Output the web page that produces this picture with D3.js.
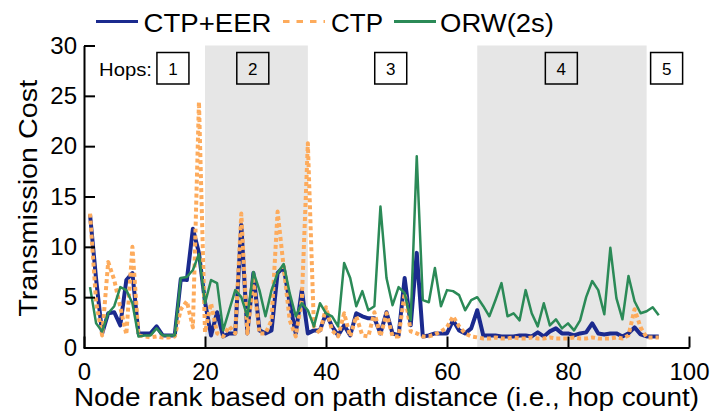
<!DOCTYPE html>
<html>
<head>
<meta charset="utf-8">
<script src="https://cdn.jsdelivr.net/npm/d3@7"></script>
<style>
  html, body { margin: 0; padding: 0; background: #fff; }
  svg { display: block; font-family: "Liberation Sans", Arial, Helvetica, sans-serif; }
</style>
</head>
<body>
<svg id="chart" width="716" height="415"></svg>
<script>
// ---- data ----
const seriesNames = ["CTP+EER", "CTP", "ORW(2s)"];
const ctpEer = [13.2, 6.8, 1.4, 3.4, 3.5, 2.2, 6.7, 7.4, 1.4, 1.4,
  1.4, 2.1, 1.2, 1.2, 1.2, 6.8, 6.7, 11.8, 9.4, 4.5,
  1.2, 3.5, 1.1, 1.4, 1.4, 12.2, 1.4, 7.4, 1.7, 1.4,
  1.7, 7.4, 8.0, 4.4, 1.4, 5.7, 1.4, 1.7, 1.7, 3.4,
  2.1, 1.2, 2.2, 1.2, 3.4, 3.1, 2.9, 2.9, 1.4, 3.5,
  1.4, 1.2, 6.9, 2.2, 9.4, 1.1, 1.2, 1.4, 1.4, 1.4,
  2.7, 1.7, 1.4, 1.9, 3.7, 1.2, 1.2, 1.2, 1.1, 1.1,
  1.1, 1.2, 1.2, 1.1, 1.5, 1.1, 1.6, 1.9, 1.4, 1.4,
  1.2, 1.4, 1.5, 2.4, 1.4, 1.3, 1.4, 1.4, 1.1, 1.4,
  2.0, 1.3, 1.1, 1.1, 1.1];
const ctp = [13.3, 4.5, 1.2, 8.5, 6.7, 4.0, 1.3, 10.0, 1.2, 1.1,
  1.0, 1.1, 1.0, 1.0, 1.1, 3.8, 4.6, 2.0, 24.4, 1.5,
  4.4, 1.4, 1.1, 2.1, 1.4, 13.3, 1.4, 6.7, 1.4, 1.4,
  2.7, 13.5, 8.0, 2.7, 1.1, 4.7, 20.3, 2.1, 1.4, 4.0,
  1.7, 1.1, 3.4, 1.1, 3.1, 1.2, 1.1, 3.5, 1.1, 3.4,
  1.1, 1.1, 5.4, 1.6, 1.4, 1.1, 1.1, 1.3, 1.6, 2.0,
  3.1, 2.1, 1.4, 1.1, 1.0, 0.9, 0.9, 1.0, 0.9, 0.9,
  1.0, 0.9, 0.9, 1.0, 0.9, 0.9, 1.0, 0.9, 0.9, 0.9,
  1.0, 0.9, 0.9, 1.0, 0.9, 0.9, 0.9, 1.0, 0.9, 1.2,
  3.8, 2.0, 1.0, 1.0, 1.0];
const orw = [6.0, 2.4, 1.6, 3.4, 4.1, 6.0, 5.7, 4.4, 1.1, 1.2,
  1.2, 1.9, 1.2, 1.2, 1.2, 6.9, 7.0, 7.7, 9.3, 4.4,
  6.7, 6.4, 1.7, 3.7, 5.7, 5.0, 3.1, 7.5, 5.7, 3.1,
  5.7, 7.4, 8.3, 5.4, 3.1, 4.4, 3.7, 2.1, 4.4, 3.4,
  3.1, 2.1, 8.4, 6.9, 4.1, 5.6, 3.7, 4.1, 14.0, 6.9,
  4.2, 6.0, 5.4, 2.7, 19.0, 4.7, 4.5, 7.9, 4.1, 5.7,
  5.6, 5.2, 3.7, 4.7, 5.0, 4.1, 3.1, 4.7, 6.4, 3.1,
  3.4, 2.7, 5.7, 3.4, 2.1, 4.4, 2.2, 2.8, 1.9, 2.4,
  1.7, 2.7, 5.0, 6.6, 5.7, 3.3, 9.9, 4.9, 2.8, 7.1,
  4.6, 3.4, 3.6, 4.0, 3.2];
const xTicks = [0, 20, 40, 60, 80, 100];
const yTicks = [0, 5, 10, 15, 20, 25, 30];
const shadedBands = [[20, 37], [65, 93]];
const hopLabels = ["1", "2", "3", "4", "5"];
const hopCenters = [14.7, 27.9, 50.7, 78.9, 96.3]; // label anchor along x (layout)
const xLabel = "Node rank based on path distance (i.e., hop count)";
const yLabel = "Transmission Cost";

// ---- layout / style ----
const colors = ["#1b2a8e", "#fdab5c", "#2b8a57"];
const widths = [4, 4, 2.5];
const dashes = [null, "4,3", null];

const svg = d3.select("#chart");
const L = 84, R = 689, T = 45.5, B = 347.5;
const x = d3.scaleLinear().domain([0, 100]).range([L, R]);
const y = d3.scaleLinear().domain([0, 30]).range([B, T]);

// shaded bands
svg.append("g").selectAll("rect").data(shadedBands).join("rect")
  .attr("x", d => x(d[0])).attr("width", d => x(d[1]) - x(d[0]))
  .attr("y", y(30)).attr("height", y(0) - y(30))
  .attr("fill", "#e6e6e6");

// lines
const series = [ctpEer, ctp, orw];
const line = d3.line().x((d, i) => x(i + 1)).y(d => y(d));
svg.append("g").selectAll("path").data(series).join("path")
  .attr("d", d => line(d))
  .attr("fill", "none")
  .attr("stroke", (d, i) => colors[i])
  .attr("stroke-width", (d, i) => widths[i])
  .attr("stroke-dasharray", (d, i) => dashes[i])
  .attr("stroke-linejoin", "round");

// axes
const xAxis = svg.append("g").attr("transform", `translate(0,${B})`)
  .call(d3.axisBottom(x).tickValues(xTicks).tickSizeInner(-11).tickSizeOuter(0).tickPadding(15));
const yAxis = svg.append("g").attr("transform", `translate(${L},0)`)
  .call(d3.axisLeft(y).tickValues(yTicks).tickSizeInner(-11).tickSizeOuter(0).tickPadding(7));
[xAxis, yAxis].forEach(g => {
  g.attr("font-family", null).attr("font-size", null);
  g.select(".domain").attr("stroke", "#000").attr("stroke-width", 2);
  g.selectAll(".tick line").attr("stroke", "#000").attr("stroke-width", 2);
  g.selectAll(".tick text").attr("fill", "#000").style("font-size", "24px");
});
// extend domain path to close the corner
svg.append("line").attr("x1", L).attr("x2", L).attr("y1", B).attr("y2", B + 1)
  .attr("stroke", "#000").attr("stroke-width", 2);

// axis titles
svg.append("text").attr("x", (L + R) / 2).attr("y", 406)
  .attr("text-anchor", "middle").style("font-size", "26px")
  .attr("textLength", 625).attr("lengthAdjust", "spacingAndGlyphs")
  .text(xLabel);
svg.append("text").attr("transform", `translate(36.5,${(80 + 316.7) / 2}) rotate(-90)`)
  .attr("text-anchor", "middle").style("font-size", "26px")
  .attr("textLength", 237).attr("lengthAdjust", "spacingAndGlyphs")
  .text(yLabel);

// hop annotations
svg.append("text").attr("x", 99).attr("y", 76).style("font-size", "19px")
  .attr("textLength", 53).attr("lengthAdjust", "spacingAndGlyphs").text("Hops:");
const hops = svg.append("g").selectAll("g").data(hopLabels).join("g")
  .attr("transform", (d, i) => `translate(${x(hopCenters[i])},0)`);
hops.append("rect").attr("x", -16).attr("y", 52.5).attr("width", 32).attr("height", 31.5)
  .attr("fill", "none").attr("stroke", "#000").attr("stroke-width", 1.5);
hops.append("text").attr("x", 0).attr("y", 75).attr("text-anchor", "middle")
  .style("font-size", "17px").text(d => d);

// legend
const legX = [96, 283, 394];
const legTextX = [143.5, 331, 440];
const legTextLen = [128, 52, 114];
const leg = svg.append("g").selectAll("g").data(seriesNames).join("g");
leg.append("line")
  .attr("x1", (d, i) => legX[i]).attr("x2", (d, i) => legX[i] + 42)
  .attr("y1", 21.5).attr("y2", 21.5)
  .attr("stroke", (d, i) => colors[i]).attr("stroke-width", 3)
  .attr("stroke-dasharray", (d, i) => i === 1 ? "6.5,7" : null);
leg.append("text").attr("x", (d, i) => legTextX[i]).attr("y", 32.3)
  .style("font-size", "26px")
  .attr("textLength", (d, i) => legTextLen[i]).attr("lengthAdjust", "spacingAndGlyphs")
  .text(d => d);
</script>
</body>
</html>
